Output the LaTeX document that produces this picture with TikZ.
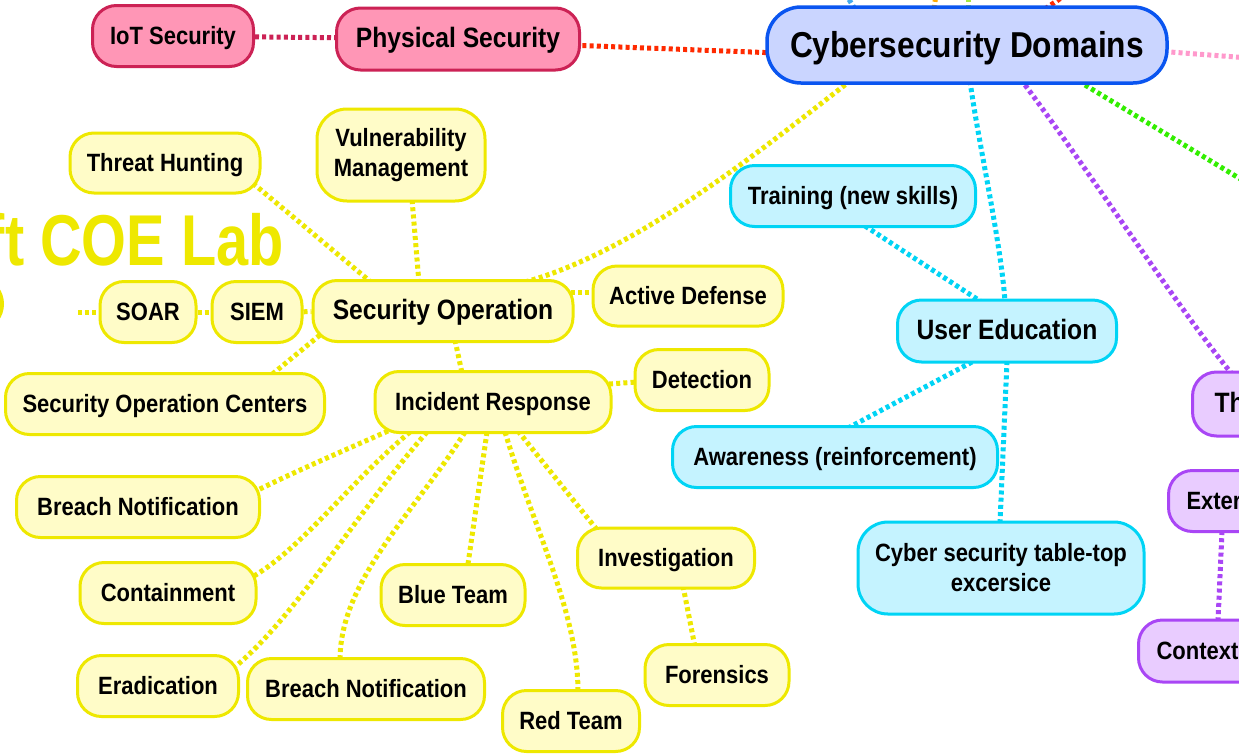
\documentclass[tikz,border=0pt]{standalone}
\usepackage{fontspec}
\setmainfont[FakeStretch=0.88]{Liberation Sans}
\usetikzlibrary{calc}
\pgfdeclarelayer{bg}
\pgfsetlayers{bg,main}
\definecolor{yfill}{HTML}{FFFCC8}
\definecolor{ydraw}{HTML}{EEE800}
\definecolor{pfill}{HTML}{FF96B6}
\definecolor{pdraw}{HTML}{CC2255}
\definecolor{bfill}{HTML}{CAD5FF}
\definecolor{bdraw}{HTML}{0A55F0}
\definecolor{cfill}{HTML}{C5F3FF}
\definecolor{cdraw}{HTML}{00D4F5}
\definecolor{vfill}{HTML}{E9CCFF}
\definecolor{vdraw}{HTML}{A946F5}
\definecolor{redline}{HTML}{FF2A00}
\definecolor{pinkline}{HTML}{FF99CC}
\definecolor{greenline}{HTML}{33EE00}
\definecolor{orangeline}{HTML}{FFAA00}
\definecolor{skyline}{HTML}{44AAEE}
\definecolor{limeline}{HTML}{A8E840}
\newcommand\fntleaf{\bfseries\fontsize{25}{30}\selectfont}
\newcommand\fntmid{\bfseries\fontsize{28}{33}\selectfont}
\newcommand\fntroot{\bfseries\fontsize{36}{40}\selectfont}
\begin{document}
\begin{tikzpicture}[x=1pt,y=-1pt,
  nb/.style={draw, line width=3, rounded corners=24, inner sep=0, font=\fntleaf},
  one/.style={text height=20, text depth=3},
  mid/.style={font=\fntmid, text height=22, text depth=5},
  ybox/.style={nb, one, fill=yfill, draw=ydraw},
  y2box/.style={nb, fill=yfill, draw=ydraw, align=center, rounded corners=30},
  pbox/.style={nb, one, fill=pfill, draw=pdraw},
  cbox/.style={nb, one, fill=cfill, draw=cdraw},
  c2box/.style={nb, fill=cfill, draw=cdraw, align=center, rounded corners=30},
  vbox/.style={nb, one, fill=vfill, draw=vdraw, text width=220, align=left, inner xsep=18},
  dl/.style={line width=5, dash pattern=on 4pt off 3.2pt}]
\useasboundingbox (0,0) rectangle (1239,753);
\begin{pgfonlayer}{bg}
\fill[white] (0,0) rectangle (1239,753);
\end{pgfonlayer}
\clip (0,0) rectangle (1239,753);

% title fragments
\node[font=\bfseries\fontsize{72}{80}\selectfont, text=ydraw, anchor=base east, inner sep=0] (title) at (284,265) {\scalebox{0.91}[1]{ft COE Lab}};
\draw[ydraw, line width=6] (-16,304) ellipse [x radius=17, y radius=21];
\coordinate (soarleft) at (78,312);
\coordinate (pinkend) at (1262,59);
\coordinate (greenend) at (1262,192);

% pink
\node[pbox, minimum width=161, minimum height=61] (iot) at (173,36) {IoT Security};
\node[pbox, mid, minimum width=243, minimum height=62] (phys) at (458,39) {Physical Security};
% root
\node[nb, fill=bfill, draw=bdraw, line width=3.5, rounded corners=34, font=\fntroot, text height=28, text depth=3, minimum width=400, minimum height=76] (cyber) at (967,45) {Cybersecurity Domains};

% yellow
\node[ybox, minimum width=190, minimum height=60] (th) at (165,163) {Threat Hunting};
\node[y2box, minimum width=168, minimum height=92] (vm) at (401,155) {Vulnerability\\Management};
\node[ybox, mid, minimum width=260, minimum height=61] (so) at (443,311) {Security Operation};
\node[ybox, minimum width=190, minimum height=60] (ad) at (688,296) {Active Defense};
\node[ybox, minimum width=96, minimum height=61] (soar) at (148,312) {SOAR};
\node[ybox, minimum width=90, minimum height=61] (siem) at (257,312) {SIEM};
\node[ybox, minimum width=319, minimum height=61] (soc) at (165,404) {Security Operation Centers};
\node[ybox, minimum width=236, minimum height=61] (ir) at (493,402) {Incident Response};
\node[ybox, minimum width=134, minimum height=61] (det) at (702,380) {Detection};
\node[ybox, minimum width=243, minimum height=61] (bn1) at (138,507) {Breach Notification};
\node[ybox, minimum width=176, minimum height=61] (cont) at (168,593) {Containment};
\node[ybox, minimum width=144, minimum height=61] (blue) at (453,595) {Blue Team};
\node[ybox, minimum width=177, minimum height=60] (inv) at (666,558) {Investigation};
\node[ybox, minimum width=161, minimum height=61] (erad) at (158,686) {Eradication};
\node[ybox, minimum width=237, minimum height=61] (bn2) at (366,689) {Breach Notification};
\node[ybox, minimum width=144, minimum height=61] (for) at (717,675) {Forensics};
\node[ybox, minimum width=137, minimum height=61] (red) at (571,721) {Red Team};

% cyan
\node[cbox, minimum width=245, minimum height=61] (tr) at (853,196) {Training (new skills)};
\node[cbox, mid, minimum width=219, minimum height=62] (ue) at (1007,331) {User Education};
\node[cbox, minimum width=325, minimum height=61] (aw) at (835,457) {Awareness (reinforcement)};
\node[c2box, minimum width=286, minimum height=92] (tt) at (1001,568) {Cyber security table-top\\excersice};

% purple (cut by the right edge)
\node[vbox, mid, inner xsep=22, minimum height=64, anchor=west] (thr) at (1191,404) {Th};
\node[vbox, minimum height=61, anchor=west] (ext) at (1167,501) {Exter};
\node[vbox, minimum height=62, anchor=west] (ctx) at (1137,651) {Contextu};

\begin{pgfonlayer}{bg}
\clip (0,0) rectangle (1239,753);
% top stubs
\draw[dl, skyline] ($(cyber)+(-112,-36)$) -- ++(-14,-22);
\draw[dl, orangeline] ($(cyber)+(-33,-36)$) -- ++(3,-22);
\draw[dl, limeline] ($(cyber)+(1,-36)$) -- ++(0,-22);
\draw[dl, redline] ($(cyber)+(78,-36)$) -- ++(32,-22);
% pink group
\draw[dl, pdraw] (iot) -- (phys);
\draw[dl, redline] ($(phys)+(110,6)$) -- ($(cyber)+(-190,8)$);
\draw[dl, pinkline] ($(cyber)+(190,6)$) -- (pinkend);
\draw[dl, greenline] ($(cyber)+(118,40)$) -- (greenend);
\draw[dl, vdraw] ($(cyber)+(58,40)$) .. controls +(60,80) and +(-50,-60) .. ($(thr.west)+(41,-30)$);
\draw[dl, cdraw] ($(cyber)+(3,36)$) .. controls +(8,60) and +(-4,-60) .. ($(ue)+(-2,-29)$);
\draw[dl, ydraw] ($(so)+(82,-29)$) .. controls +(110,-30) and +(-90,70) .. ($(cyber)+(-117,36)$);
% yellow group
\draw[dl, ydraw] ($(so)+(-71,-28)$) -- ($(th)+(90,22)$);
\draw[dl, ydraw] ($(so)+(-24,-28)$) -- ($(vm)+(11,44)$);
\draw[dl, ydraw] ($(so)+(128,-19)$) -- ($(ad)+(-93,-4)$);
\draw[dl, ydraw] (siem) -- (so);
\draw[dl, ydraw] (soar) -- (siem);
\draw[dl, ydraw] (soarleft) -- (soar);
\draw[dl, ydraw] ($(so)+(-123,24)$) -- ($(soc)+(105,-28)$);
\draw[dl, ydraw] ($(so)+(12,29)$) -- ($(ir)+(-31,-29)$);
\draw[dl, ydraw] ($(ir)+(116,-18)$) -- ($(det)+(-65,2)$);
\draw[dl, ydraw] ($(ir)+(-105,29)$) .. controls +(-45,20) and +(40,-20) .. ($(bn1)+(118,-16)$);
\draw[dl, ydraw] ($(ir)+(-83,30)$) .. controls +(-60,50) and +(50,-30) .. ($(cont)+(86,-17)$);
\draw[dl, ydraw] ($(ir)+(-66,30)$) .. controls +(-70,80) and +(60,-50) .. ($(erad)+(78,-20)$);
\draw[dl, ydraw] ($(ir)+(-28,30)$) .. controls +(-50,80) and +(0,-80) .. ($(bn2)+(-26,-29)$);
\draw[dl, ydraw] ($(ir)+(-6,30)$) -- ($(blue)+(15,-31)$);
\draw[dl, ydraw] ($(ir)+(12,30)$) .. controls +(30,100) and +(0,-80) .. ($(red)+(7,-29)$);
\draw[dl, ydraw] ($(ir)+(25,29)$) -- ($(inv)+(-68,-27)$);
\draw[dl, ydraw] ($(inv)+(17,28)$) -- ($(for)+(-22,-28)$);
% cyan group
\draw[dl, cdraw] ($(tr)+(12,30)$) -- ($(ue)+(-27,-30)$);
\draw[dl, cdraw] ($(ue)+(-35,31)$) -- ($(aw)+(13,-29)$);
\draw[dl, cdraw] ($(ue)+(0,30)$) -- ($(tt)+(-1,-45)$);
% purple group
\draw[dl, vdraw] ($(ext.west)+(55,30)$) -- ($(ctx.west)+(81,-30)$);
\end{pgfonlayer}
\end{tikzpicture}
\end{document}
